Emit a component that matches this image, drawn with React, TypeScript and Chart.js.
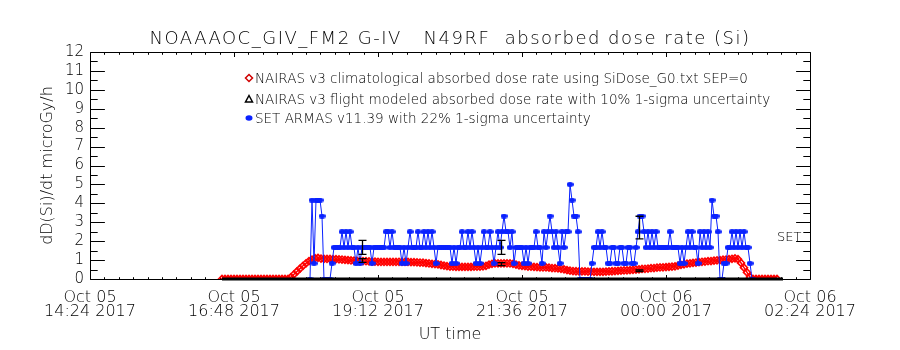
import React, { useEffect, useRef } from "react";
import { Chart, registerables } from "chart.js";

Chart.register(...registerables);

const FONT = "'DejaVu Sans', 'Liberation Sans', sans-serif";
const WEIGHT = 200;

const TITLE = "NOAAAOC_GIV_FM2 G-IV   N49RF  absorbed dose rate (Si)";
const Y_TITLE = "dD(Si)/dt microGy/h";
const X_TITLE = "UT time";
const SET_LABEL = "SET";

// x axis: minutes since Oct 05 14:24 UT
const X_MIN = 0;
const X_MAX = 720;
const X_TICK_MINUTES = [0, 144, 288, 432, 576, 720];
const X_TICK_LABELS = [
  ["Oct 05", "14:24 2017"],
  ["Oct 05", "16:48 2017"],
  ["Oct 05", "19:12 2017"],
  ["Oct 05", "21:36 2017"],
  ["Oct 06", "00:00 2017"],
  ["Oct 06", "02:24 2017"],
];
const Y_MIN = 0;
const Y_MAX = 12;

const LEGEND_LABELS = [
  "NAIRAS v3 climatological absorbed dose rate using SiDose_G0.txt SEP=0",
  "NAIRAS v3 flight modeled absorbed dose rate with 10% 1-sigma uncertainty",
  "SET ARMAS v11.39 with 22% 1-sigma uncertainty",
];

// NAIRAS climatological dose rate (red diamonds), 3-minute samples from minute 132
const CLIM_START = 132;
const CLIM_STEP = 3;
const climDose = [
  0, 0, 0, 0, 0, 0, 0, 0, 0, 0,
  0, 0, 0, 0, 0, 0, 0, 0, 0, 0,
  0, 0, 0, 0.1, 0.25, 0.4, 0.55, 0.7, 0.83, 0.95,
  1.03, 1.1, 1.12, 1.08, 1.06, 1.06, 1.06, 1.05, 1.05, 1.04,
  1.03, 1.01, 1.0, 0.98, 0.97, 0.96, 0.96, 0.95, 0.94, 0.93,
  0.92, 0.92, 0.91, 0.9, 0.9, 0.9, 0.9, 0.9, 0.9, 0.91,
  0.91, 0.9, 0.9, 0.89, 0.89, 0.88, 0.87, 0.86, 0.84, 0.82,
  0.8, 0.79, 0.77, 0.74, 0.71, 0.68, 0.66, 0.65, 0.64, 0.64,
  0.64, 0.64, 0.64, 0.64, 0.65, 0.65, 0.66, 0.67, 0.7, 0.76,
  0.8, 0.82, 0.82, 0.82, 0.83, 0.83, 0.82, 0.8, 0.76, 0.72,
  0.7, 0.68, 0.66, 0.65, 0.64, 0.63, 0.62, 0.61, 0.61, 0.6,
  0.58, 0.57, 0.56, 0.54, 0.51, 0.47, 0.44, 0.42, 0.41, 0.4,
  0.4, 0.4, 0.39, 0.39, 0.38, 0.38, 0.38, 0.38, 0.39, 0.4,
  0.41, 0.42, 0.43, 0.44, 0.45, 0.46, 0.47, 0.48, 0.5, 0.51,
  0.53, 0.54, 0.55, 0.57, 0.58, 0.6, 0.61, 0.62, 0.63, 0.64,
  0.65, 0.67, 0.71, 0.75, 0.78, 0.81, 0.83, 0.85, 0.87, 0.89,
  0.91, 0.92, 0.94, 0.95, 0.97, 0.99, 1.0, 1.02, 1.03, 1.05,
  1.07, 1.09, 1.05, 0.85, 0.6, 0.35, 0.1, 0, 0, 0,
  0, 0, 0, 0, 0, 0,
];

// SET ARMAS measured dose rate (blue dots), 2-minute samples from minute 220
const ARMAS_START = 220;
const ARMAS_STEP = 2;
const armasDose = [
  0, 4.17, 0.83, 4.17, 4.17, 4.17, 3.33, 0, 0, 0,
  0, 0.83, 1.67, 1.67, 1.67, 1.67, 2.5, 1.67, 2.5, 1.67,
  2.5, 1.67, 1.67, 0.83, 1.67, 0.83, 1.67, 1.67, 1.67, 1.67,
  1.67, 0.83, 1.67, 1.67, 1.67, 1.67, 1.67, 1.67, 2.5, 2.5,
  1.67, 2.5, 1.67, 1.67, 1.67, 1.67, 0.83, 1.67, 0.83, 1.67,
  2.5, 1.67, 1.67, 1.67, 2.5, 1.67, 1.67, 2.5, 1.67, 2.5,
  1.67, 2.5, 1.67, 0.83, 1.67, 1.67, 1.67, 1.67, 1.67, 1.67,
  1.67, 0.83, 1.67, 0.83, 1.67, 1.67, 2.5, 1.67, 1.67, 2.5,
  1.67, 2.5, 1.67, 0.83, 1.67, 0.83, 1.67, 2.5, 1.67, 1.67,
  2.5, 1.67, 0.83, 1.67, 2.5, 1.67, 2.5, 3.33, 2.5, 2.5,
  1.67, 2.5, 0.83, 1.67, 1.67, 1.67, 1.67, 0.83, 1.67, 0.83,
  1.67, 1.67, 1.67, 2.5, 1.67, 1.67, 0.83, 2.5, 1.67, 2.5,
  3.33, 2.5, 1.67, 2.5, 1.67, 0.83, 2.5, 1.67, 2.5, 2.5,
  5.0, 4.17, 3.33, 3.33, 2.5, 0, 0, 0, 0, 0,
  0, 0.83, 1.67, 1.67, 2.5, 1.67, 2.5, 1.67, 1.67, 0.83,
  0.83, 1.67, 1.67, 0.83, 0.83, 1.67, 1.67, 0.83, 0.83, 1.67,
  1.67, 0.83, 0.83, 1.67, 2.5, 3.33, 3.33, 2.5, 1.67, 2.5,
  1.67, 2.5, 1.67, 2.5, 1.67, 1.67, 1.67, 1.67, 1.67, 1.67,
  2.5, 1.67, 1.67, 1.67, 1.67, 0.83, 1.67, 0.83, 1.67, 2.5,
  1.67, 2.5, 1.67, 1.67, 0.83, 2.5, 1.67, 2.5, 1.67, 2.5,
  1.67, 4.17, 3.33, 3.33, 2.5, 0, 0, 0.83, 0.83, 1.67,
  1.67, 2.5, 1.67, 2.5, 1.67, 2.5, 1.67, 2.5, 1.67, 1.67,
  0.83, 0,
];
const ARMAS_ERR_FRAC = 0.22;
const armasErrMinutes = [272, 411, 549];
const armasErrDose = [1.67, 1.67, 2.72];

// NAIRAS flight modeled dose rate (black), track along the axis + modeled points
const flightTrackMinutes = [132, 693];
const flightTrackDose = [0, 0];
const MODEL_ERR_FRAC = 0.1;
const modelMinutes = [272, 411, 549];
const modelDose = [0.98, 0.79, 0.44];

const RED = "#ff0000";
const RED_DARK = "#d00000";
const BLUE = "#0a22ff";

function ellipseMarker(color: string, w: number, h: number) {
  const c = document.createElement("canvas");
  c.width = w;
  c.height = h;
  const g = c.getContext("2d")!;
  g.fillStyle = color;
  g.beginPath();
  g.ellipse(w / 2, h / 2, w / 2, h / 2, 0, 0, Math.PI * 2);
  g.fill();
  return c;
}

function crisp(v: number) {
  return Math.round(v) + 0.5;
}

const idlAxesPlugin = {
  id: "idlAxes",
  beforeDatasetsDraw(chart: any) {
    const { ctx, chartArea: a, scales } = chart;
    const xs = scales.x;
    const ys = scales.y;
    ctx.save();
    ctx.strokeStyle = "#000";
    ctx.lineWidth = 1;
    const L = crisp(a.left);
    const R = crisp(a.right);
    const T = crisp(a.top);
    const B = crisp(a.bottom);
    ctx.beginPath();
    ctx.moveTo(L, T);
    ctx.lineTo(R, T);
    ctx.lineTo(R, B);
    ctx.lineTo(L, B);
    ctx.closePath();
    for (let v = Y_MIN; v <= Y_MAX; v += 0.5) {
      const py = crisp(ys.getPixelForValue(v));
      const len = Number.isInteger(v) ? 14.4 : 7.2;
      ctx.moveTo(L, py);
      ctx.lineTo(L + len, py);
      ctx.moveTo(R, py);
      ctx.lineTo(R - len, py);
    }
    const span = (X_MAX - X_MIN) / 50;
    for (let k = 0; k <= 50; k++) {
      const px = crisp(xs.getPixelForValue(X_MIN + k * span));
      const len = k % 10 === 0 ? 4.5 : 2.3;
      ctx.moveTo(px, B);
      ctx.lineTo(px, B - len);
      ctx.moveTo(px, T);
      ctx.lineTo(px, T + len);
    }
    ctx.stroke();
    ctx.restore();
  },
  afterDatasetsDraw(chart: any) {
    const { ctx, scales } = chart;
    const xs = scales.x;
    const ys = scales.y;
    ctx.save();
    ctx.strokeStyle = "#000";
    ctx.lineWidth = 1.3;
    const bar = (m: number, c: number, f: number) => {
      const px = crisp(xs.getPixelForValue(m));
      const lo = ys.getPixelForValue(c * (1 - f));
      const hi = ys.getPixelForValue(c * (1 + f));
      ctx.beginPath();
      ctx.moveTo(px, lo);
      ctx.lineTo(px, hi);
      ctx.moveTo(px - 4, lo);
      ctx.lineTo(px + 4, lo);
      ctx.moveTo(px - 4, hi);
      ctx.lineTo(px + 4, hi);
      ctx.stroke();
    };
    armasErrMinutes.forEach((m, i) => bar(m, armasErrDose[i], ARMAS_ERR_FRAC));
    modelMinutes.forEach((m, i) => bar(m, modelDose[i], MODEL_ERR_FRAC));
    ctx.restore();
  },
  afterDraw(chart: any) {
    const { ctx, chartArea: a, width } = chart;
    ctx.save();
    // title
    ctx.fillStyle = "#000";
    ctx.font = `${WEIGHT} 18px ${FONT}`;
    ctx.textAlign = "center";
    ctx.textBaseline = "alphabetic";
    (ctx as any).letterSpacing = "1.5px";
    ctx.fillText(TITLE, width / 2, 44);
    (ctx as any).letterSpacing = "0px";
    // legend
    ctx.font = `${WEIGHT} 13.5px ${FONT}`;
    ctx.textBaseline = "middle";
    ctx.textAlign = "left";
    const sx = a.left + 159;
    const tx = sx + 6;
    const rows = [a.top + 26, a.top + 47, a.top + 66];
    ctx.strokeStyle = RED_DARK;
    ctx.lineWidth = 1.5;
    ctx.beginPath();
    ctx.moveTo(sx, rows[0] - 3.5);
    ctx.lineTo(sx + 3.5, rows[0]);
    ctx.lineTo(sx, rows[0] + 3.5);
    ctx.lineTo(sx - 3.5, rows[0]);
    ctx.closePath();
    ctx.stroke();
    ctx.strokeStyle = "#000";
    ctx.beginPath();
    ctx.moveTo(sx, rows[1] - 3.5);
    ctx.lineTo(sx + 3.5, rows[1] + 3);
    ctx.lineTo(sx - 3.5, rows[1] + 3);
    ctx.closePath();
    ctx.stroke();
    ctx.fillStyle = BLUE;
    ctx.beginPath();
    ctx.ellipse(sx, rows[2], 3.5, 2.8, 0, 0, Math.PI * 2);
    ctx.fill();
    ctx.fillStyle = "#000";
    LEGEND_LABELS.forEach((t, i) => ctx.fillText(t, tx, rows[i] + 1));
    // SET label at right
    ctx.font = `${WEIGHT} 13px ${FONT}`;
    ctx.fillText(SET_LABEL, a.right - 33, chart.scales.y.getPixelForValue(2.2));
    ctx.restore();
  },
};

export default function App() {
  const ref = useRef<HTMLCanvasElement>(null);
  useEffect(() => {
    document.body.style.margin = "0";
    const canvas = ref.current!;
    const blueDot = ellipseMarker(BLUE, 7, 5);
    const chart = new Chart(canvas, {
      type: "line",
      data: {
        datasets: [
          {
            label: "flight track",
            data: flightTrackMinutes.map((m, i) => ({ x: m, y: flightTrackDose[i] })),
            borderColor: "#000",
            borderWidth: 3,
            pointRadius: 0,
            order: 1,
            clip: 3,
          } as any,
          {
            label: LEGEND_LABELS[1],
            data: modelMinutes.map((m, i) => ({ x: m, y: modelDose[i] })),
            showLine: false,
            pointRadius: 0,
            borderColor: "#000",
            order: 1,
          },
          {
            label: LEGEND_LABELS[2],
            data: armasDose.map((v, i) => ({ x: ARMAS_START + i * ARMAS_STEP, y: v })),
            borderColor: BLUE,
            borderWidth: 1,
            pointStyle: blueDot as any,
            pointRadius: 3,
            order: 2,
          },
          {
            label: LEGEND_LABELS[0],
            data: climDose.map((v, i) => ({ x: CLIM_START + i * CLIM_STEP, y: v })),
            borderColor: RED,
            borderWidth: 1.5,
            pointStyle: "rectRot",
            pointRadius: 3.5,
            pointBorderColor: RED,
            pointBackgroundColor: "rgba(255,255,255,0)",
            pointBorderWidth: 1.6,
            order: 3,
            clip: 0,
          },
        ],
      },
      options: {
        responsive: false,
        animation: false,
        events: [],
        layout: { padding: { left: 0, right: 0, top: 52, bottom: 0 } },
        plugins: {
          legend: { display: false },
          tooltip: { enabled: false },
          title: { display: false },
        },
        scales: {
          x: {
            type: "linear",
            min: X_MIN,
            max: X_MAX,
            afterBuildTicks: (s: any) => {
              s.ticks = X_TICK_MINUTES.map((v) => ({ value: v }));
            },
            ticks: {
              autoSkip: false,
              maxRotation: 0,
              color: "#000",
              padding: 12,
              font: { family: FONT, size: 16, weight: WEIGHT, lineHeight: 0.875 },
              callback: (_v: any, i: number) => X_TICK_LABELS[i],
            },
            grid: { display: false, drawTicks: false },
            border: { display: false },
            title: {
              display: true,
              text: X_TITLE,
              color: "#000",
              font: { family: FONT, size: 16, weight: WEIGHT, lineHeight: 1.2 },
              padding: { top: 0, bottom: 6 },
            },
            afterFit: (s: any) => {
              s.height = 71;
            },
          },
          y: {
            min: Y_MIN,
            max: Y_MAX,
            ticks: {
              stepSize: 1,
              autoSkip: false,
              color: "#000",
              padding: 6,
              font: { family: FONT, size: 15, weight: WEIGHT },
            },
            grid: { display: false, drawTicks: false },
            border: { display: false },
            title: {
              display: true,
              text: Y_TITLE,
              color: "#000",
              font: { family: FONT, size: 16, weight: WEIGHT, lineHeight: 1.2 },
              padding: { top: 38.4, bottom: 0 },
            },
            afterFit: (s: any) => {
              s.width = 90;
            },
          },
          yRight: {
            position: "right",
            min: Y_MIN,
            max: Y_MAX,
            ticks: { display: false },
            grid: { display: false, drawTicks: false },
            border: { display: false },
            afterFit: (s: any) => {
              s.width = 90;
            },
          },
        },
      },
      plugins: [idlAxesPlugin],
    } as any);
    return () => chart.destroy();
  }, []);
  return (
    <div style={{ width: 900, height: 350 }}>
      <canvas ref={ref} width={900} height={350} style={{ display: "block", width: 900, height: 350 }} />
    </div>
  );
}
